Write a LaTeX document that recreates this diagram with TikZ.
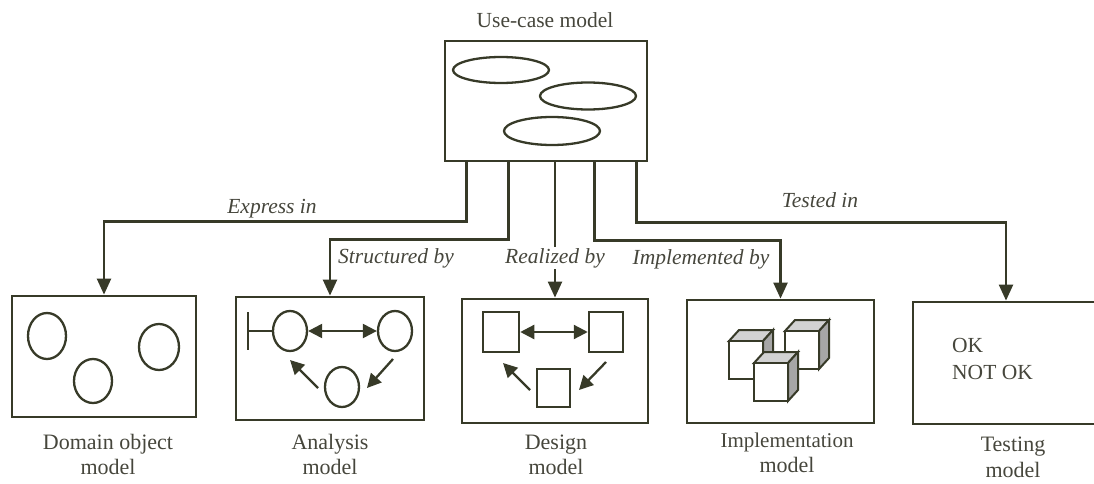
\documentclass[tikz,border=0pt]{standalone}
\usepackage{fontspec}
\setmainfont{Liberation Serif}
\usetikzlibrary{arrows.meta,calc,shapes.geometric}
\definecolor{ink}{RGB}{55,58,40}
\definecolor{txt}{RGB}{70,70,60}
\tikzset{
  box/.style={draw=ink,line width=2.8pt,rectangle,inner sep=0pt},
  conn/.style={draw=ink,line width=2.3pt,-{Triangle[length=16pt,width=14pt]}},
  lbl/.style={font=\fontsize{22}{26}\selectfont,text=txt,anchor=base,inner sep=0pt},
  rel/.style={font=\fontsize{21.5}{25}\selectfont\itshape,text=txt,anchor=base,inner sep=1pt},
  shp/.style={draw=ink,line width=2.3pt},
  oval/.style={draw=ink,line width=2.3pt,ellipse,inner sep=0pt},
  sq/.style={draw=ink,line width=2.5pt,rectangle,inner sep=0pt},
  small/.style={draw=ink,line width=2.3pt,-{Triangle[length=14pt,width=14pt]}},
  dbl/.style={draw=ink,line width=2.3pt,{Triangle[length=14pt,width=14pt]}-{Triangle[length=14pt,width=14pt]}},
  cubetop/.style={draw=ink,line width=2pt,fill=gray!35},
  cubeside/.style={draw=ink,line width=2pt,fill=gray!70},
  cubefront/.style={draw=ink,line width=2pt,fill=white},
}
\newcommand{\mycube}[2]{%
  \filldraw[cubetop] (#1,#2) -- ++(10,-11) -- ++(34,0) -- ++(-10,11) -- cycle;
  \filldraw[cubeside] (#1+34,#2) -- ++(10,-11) -- ++(0,38) -- ++(-10,11) -- cycle;
  \filldraw[cubefront] (#1,#2) rectangle ++(34,38);
}
\begin{document}
\begin{tikzpicture}[x=1pt,y=-1pt]
\useasboundingbox (0,0) rectangle (1094,484);

% top box
\node[lbl,font=\fontsize{21.5}{26}\selectfont] (uctitle) at (545,28) {Use-case model};
\node[box,minimum width=202pt,minimum height=120pt] (uc) at (546,101) {};
\node[oval,minimum width=96pt,minimum height=26pt] (e1) at (501,70) {};
\node[oval,minimum width=96pt,minimum height=27pt] (e2) at (588,96) {};
\node[oval,minimum width=96pt,minimum height=28pt] (e3) at (552,131) {};

% bottom boxes
\node[box,minimum width=184pt,minimum height=121pt] (dom) at (104,356.5) {};
\node[box,minimum width=188pt,minimum height=123pt] (ana) at (330,358.5) {};
\node[box,minimum width=186pt,minimum height=124pt] (des) at (555,361) {};
\node[box,minimum width=187pt,minimum height=123pt] (imp) at (780.5,361.5) {};
\node[box,minimum width=186pt,minimum height=122pt] (tst) at (1006,363) {};

% connectors
\draw[conn] ($(uc.south west)+(23,0)$) -- ++(0,59) -| (dom.north);
\draw[conn] ($(uc.south west)+(65,0)$) -- ++(0,77) -| (ana.north);
\draw[conn] (des.north |- uc.south) -- (des.north);
\draw[conn] ($(uc.south west)+(151,0)$) -- ++(0,78) -| (imp.north);
\draw[conn] ($(uc.south west)+(193,0)$) -- ++(0,60) -| (tst.north);

% relation labels
\node[rel] (lexp) at (272,213) {Express in};
\node[rel] (lstr) at (396,263) {Structured by};
\node[rel,fill=white] (lrea) at (555,263) {Realized by};
\node[rel] (limp) at (701,264) {Implemented by};
\node[rel] (ltst) at (820,207) {Tested in};

% domain object model contents
\node[oval,minimum width=38pt,minimum height=46pt] (d1) at (47,336) {};
\node[oval,minimum width=38pt,minimum height=44pt] (d2) at (93,381) {};
\node[oval,minimum width=40pt,minimum height=46pt] (d3) at (159,347) {};

% analysis model contents
\node[oval,minimum width=34pt,minimum height=40pt] (a1) at (290,331) {};
\node[oval,minimum width=34pt,minimum height=40pt] (a2) at (395,331) {};
\node[oval,minimum width=34pt,minimum height=40pt] (a3) at (342,387) {};
\draw[shp] (248,312) -- (248,350);
\draw[shp] (248,331) -- (a1.west);
\draw[dbl] (a1.east) -- (a2.west);
\draw[small] (318,388) -- (290,360);
\draw[small] (393,359) -- (367,388);

% design model contents
\node[sq,minimum width=36pt,minimum height=40pt] (s1) at (501,332) {};
\node[sq,minimum width=34pt,minimum height=40pt] (s2) at (606,332) {};
\node[sq,minimum width=33pt,minimum height=38pt] (s3) at (553.5,388) {};
\draw[dbl] (s1.east) -- (s2.west);
\draw[small] (530,390) -- (503,363);
\draw[small] (606,362) -- (579,390);

% implementation model contents
\mycube{729}{341}
\mycube{785}{331}
\mycube{754}{363}

% testing model contents
\node[font=\fontsize{21.5}{27}\selectfont,text=txt,anchor=north west,align=left,inner sep=0pt] (ok) at (952,338) {OK\\NOT OK};

% box labels
\node[lbl] (ldom1) at (108,449) {Domain object};
\node[lbl] (ldom2) at (108,474) {model};
\node[lbl] (lana1) at (330,449) {Analysis};
\node[lbl] (lana2) at (330,474) {model};
\node[lbl] (ldes1) at (556,449) {Design};
\node[lbl] (ldes2) at (556,474) {model};
\node[lbl,font=\fontsize{21}{26}\selectfont] (limp1) at (787,447) {Implementation};
\node[lbl] (limp2) at (787,472) {model};
\node[lbl] (ltst1) at (1013,451) {Testing};
\node[lbl] (ltst2) at (1013,477) {model};
\end{tikzpicture}
\end{document}
